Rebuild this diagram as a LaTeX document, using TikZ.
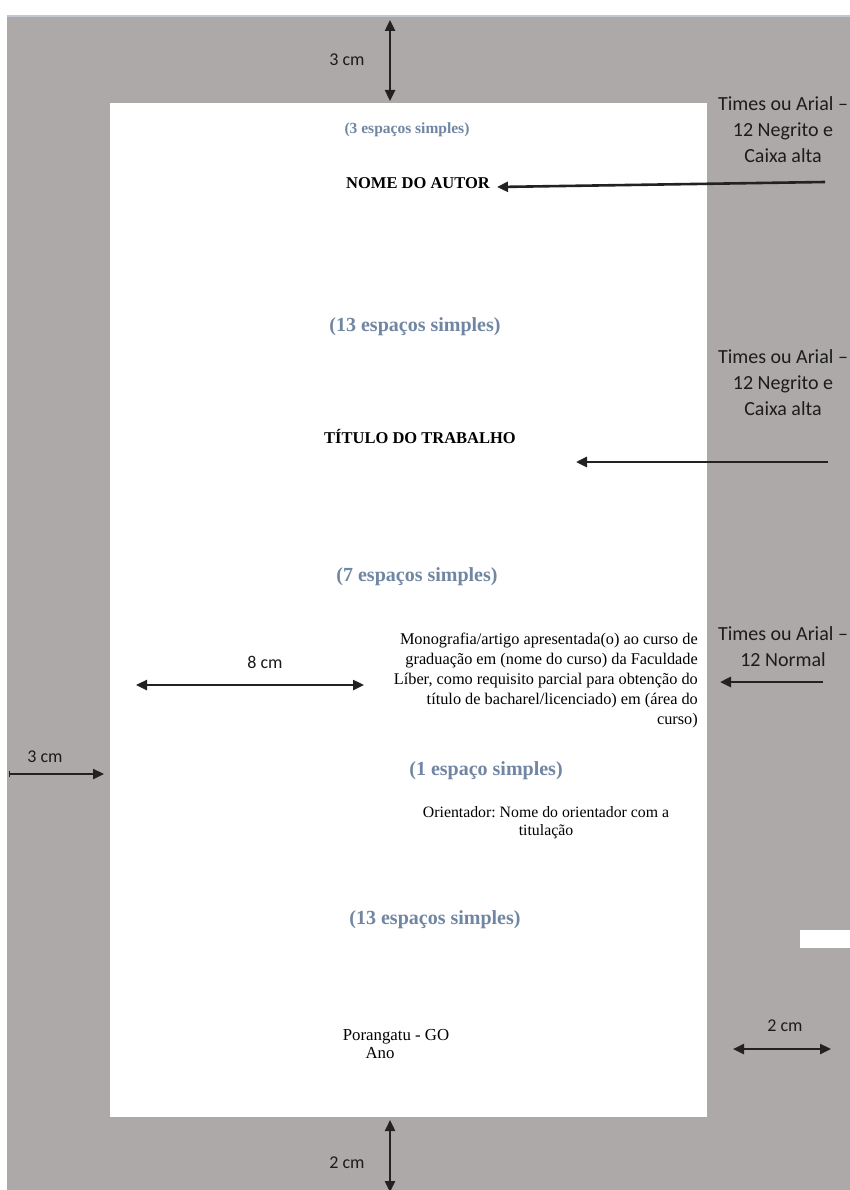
\documentclass[tikz,border=0pt]{standalone}
\usepackage{fontspec}
\setmainfont{Liberation Serif}
\newfontfamily\labelfont{Carlito}
\usetikzlibrary{arrows.meta}
\frenchspacing
\definecolor{margingray}{RGB}{173,169,168}
\definecolor{edgeblue}{RGB}{192,200,212}
\definecolor{spacenote}{RGB}{112,134,162}
\definecolor{arrowink}{RGB}{34,34,34}
\definecolor{labelink}{RGB}{28,28,28}

\begin{document}
\begin{tikzpicture}[x=1pt,y=-1pt,
  tip/.tip={Triangle[length=11pt,width=10pt]},
  dim/.style={draw=arrowink, line width=2.4pt, {tip}-{tip}},
  pointer/.style={draw=arrowink, line width=2.6pt, -{tip}},
  dimlabel/.style={font=\labelfont\fontsize{18}{20}\selectfont, text=labelink, inner sep=0pt},
  note/.style={font=\labelfont\fontsize{20}{26}\selectfont, align=center, inner sep=0pt, text=labelink},
  spacing/.style={font=\bfseries\fontsize{20}{24}\selectfont, text=spacenote, inner sep=0pt},
  heading/.style={font=\bfseries\fontsize{16.5}{20}\selectfont, inner sep=0pt},
  body/.style={font=\fontsize{16.3}{20}\selectfont, inner sep=0pt}]

\useasboundingbox (0,0) rectangle (850,1190);

% sheet with margins
\fill[white] (0,0) rectangle (850,1190);
\fill[margingray] (7,15) rectangle (850,1190);
\draw[edgeblue, line width=2pt] (7,16) -- (850,16);
\fill[white] (110,103) rectangle (707,1117);
\fill[white] (800,930) rectangle (850,948);

% spacing notes
\node[spacing, font=\bfseries\fontsize{15.5}{18}\selectfont] (s3) at (407,130) {(3 espaços simples)};
\node[spacing] (s13a) at (415,327) {(13 espaços simples)};
\node[spacing] (s7) at (417,577) {(7 espaços simples)};
\node[spacing] (s1) at (486,771) {(1 espaço simples)};
\node[spacing] (s13b) at (435,920) {(13 espaços simples)};

% page contents
\node[heading] (autor) at (418,183) {NOME DO AUTOR};
\node[heading] (titulo) at (420,436) {TÍTULO DO TRABALHO};
\node[body, align=right, anchor=east] (natureza) at (698,680)
  {Monografia/artigo apresentada(o) ao curso de\\
   graduação em (nome do curso) da Faculdade\\
   Líber, como requisito parcial para obtenção do\\
   título de bacharel/licenciado) em (área do\\
   curso)};
\node[body, align=center, font=\fontsize{15.8}{18}\selectfont] (orient) at (546,823)
  {Orientador: Nome do orientador com a\\ titulação};
\node[body, font=\fontsize{16.8}{18}\selectfont] (cidade) at (396,1037) {Porangatu - GO};
\node[body, font=\fontsize{16.8}{18}\selectfont] (ano) at (380,1053) {Ano};

% format notes on the right margin
\node[note] (n1) at (783,130) {Times ou Arial –\\ 12 Negrito e\\ Caixa alta};
\node[note] (n2) at (783,383) {Times ou Arial –\\ 12 Negrito e\\ Caixa alta};
\node[note] (n3) at (783,647) {Times ou Arial –\\ 12 Normal};

\coordinate (p1s) at (825,182);
\coordinate (p1e) at (497,187);
\coordinate (p2s) at (828,462);
\coordinate (p2e) at (576,462);
\coordinate (p3s) at (823,682);
\coordinate (p3e) at (720,682);
\draw[pointer] (p1s) -- (p1e);
\draw[pointer] (p2s) -- (p2e);
\draw[pointer] (p3s) -- (p3e);

% margin dimensions
\coordinate (topA) at (390,20);
\coordinate (topB) at (390,101);
\draw[dim] (topA) -- (topB);
\node[dimlabel] (topL) at (347,60) {3 cm};

\coordinate (leftA) at (9,774);
\coordinate (leftB) at (104,774);
\draw[dim, {Bar[width=6pt,line width=1pt]}-{tip}] (leftA) -- (leftB);
\node[dimlabel] (leftL) at (45,757) {3 cm};

\coordinate (wA) at (136,685);
\coordinate (wB) at (364,685);
\draw[dim] (wA) -- (wB);
\node[dimlabel] (wL) at (265,662) {8 cm};

\coordinate (rightA) at (733,1049);
\coordinate (rightB) at (831,1049);
\draw[dim] (rightA) -- (rightB);
\node[dimlabel] (rightL) at (785,1026) {2 cm};

\coordinate (botA) at (390,1120);
\coordinate (botB) at (390,1192);
\draw[dim] (botA) -- (botB);
\node[dimlabel] (botL) at (347,1163) {2 cm};

\end{tikzpicture}
\end{document}
